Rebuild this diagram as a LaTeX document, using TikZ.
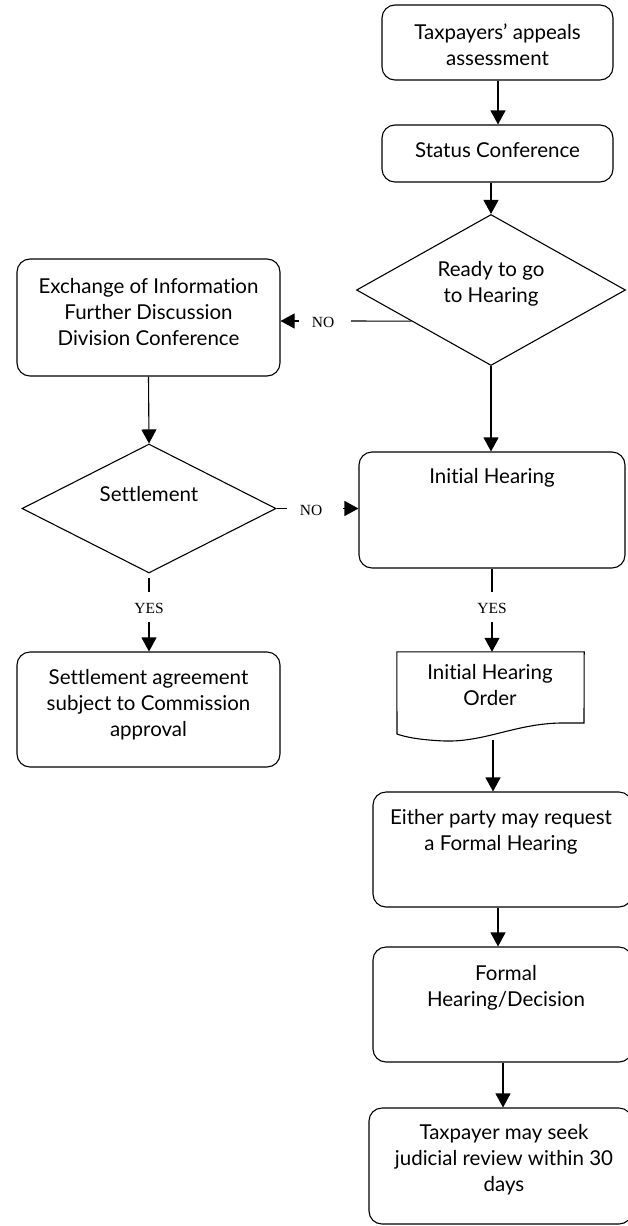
\documentclass[tikz,border=0pt]{standalone}
\usepackage{fontspec}
\setmainfont{Lato}[Ligatures=NoCommon]
\newfontfamily\lblfont{Liberation Serif}
\usetikzlibrary{shapes.geometric,arrows.meta,calc}
\begin{document}
\begin{tikzpicture}[x=1pt,y=-1pt,
  box/.style={draw, rounded corners=13pt, line width=1.1pt, inner sep=0pt},
  dia/.style={draw, diamond, line width=1.1pt, inner sep=0pt},
  txt/.style={align=center, font=\fontsize{20.5}{26}\selectfont, inner sep=0pt},
  lbl/.style={font=\lblfont\fontsize{15.5}{17}\selectfont, inner sep=0pt},
  arr/.style={line width=1.1pt, -{Triangle[length=14pt,width=15pt]}},
  ln/.style={line width=1.1pt}]
\useasboundingbox (0,0) rectangle (628,1226);

% shapes
\node[box, minimum width=231pt, minimum height=75pt] (b1) at (497.5,42.5) {};
\node[box, minimum width=231pt, minimum height=57pt] (b2) at (497.5,153.5) {};
\node[dia, minimum width=269pt, minimum height=151pt] (ready) at (491,290) {};
\node[box, minimum width=263pt, minimum height=117pt] (ex) at (148.5,317.5) {};
\node[dia, minimum width=254pt, minimum height=129pt] (settle) at (149,508.5) {};
\node[box, minimum width=266pt, minimum height=116pt] (ih) at (492,510) {};
\node[box, minimum width=263pt, minimum height=115pt] (sa) at (148.5,709.5) {};
\node[inner sep=0pt, minimum width=187pt, minimum height=88pt] (doc) at (490.5,696) {};
\draw[ln] (doc.north west) -- (doc.north east) -- (584,723) -- (560,723)
  .. controls (515,724) and (485,742) .. (445,741)
  .. controls (420,740) and (405,737) .. (397,734) -- cycle;
\node[box, minimum width=259pt, minimum height=115pt] (ep) at (502.5,849.5) {};
\node[box, minimum width=259pt, minimum height=115pt] (fh) at (502.5,1004.5) {};
\node[box, minimum width=263pt, minimum height=116pt] (tp) at (500.5,1166) {};

% texts
\node[txt] (t1) at (497.5,45) {Taxpayers’ appeals\\assessment};
\node[txt] (t2) at (497.5,150) {Status Conference};
\node[txt] (t3) at (491,283.5) {Ready to go\\to Hearing};
\node[txt] (t4) at (148.5,312) {Exchange of Information\\Further Discussion\\Division Conference};
\node[txt] (t5) at (149,494) {Settlement};
\node[txt] (t6) at (492,478) {Initial Hearing};
\node[txt] (t7) at (148.5,704.5) {Settlement agreement\\subject to Commission\\approval};
\node[txt] (t8) at (490,685.5) {Initial Hearing\\Order};
\node[txt] (t9) at (501,831.5) {Either party may request\\a Formal Hearing};
\node[txt] (t10) at (506,987.5) {Formal\\Hearing/Decision};
\node[txt] (t11) at (504,1160) {Taxpayer may seek\\judicial review within 30\\days};

% labels
\node[lbl] (no1) at (323,322) {NO};
\node[lbl] (no2) at (311,510) {NO};
\node[lbl] (yes1) at (149,608) {YES};
\node[lbl] (yes2) at (492,608) {YES};

% connectors
\draw[arr] (b1.south -| 498,0) -- (b2.north -| 498,0);
\draw[arr] (b2.south -| ready.north) -- (ready.north);
\draw[arr] (ready.south) -- (ready.south |- ih.north);

\coordinate (n1a) at ($(ready.west)!0.41!(ready.south)$);
\coordinate (n1b) at (351,321);
\coordinate (n1c) at (299,321);
\draw[ln] (n1a) -- (n1b);
\draw[arr] (n1c) -- (ex.east |- n1c);

\draw[arr] (ex.south) -- (settle.north);

\coordinate (n2b) at (287,508.5);
\coordinate (n2c) at (343,508.5);
\draw[ln] (settle.east) -- (n2b);
\draw[arr] (n2c) -- (ih.west |- n2c);

\coordinate (y1a) at (149,578);
\coordinate (y1b) at (149,592);
\coordinate (y1c) at (149,622);
\draw[ln] (y1a) -- (y1b);
\draw[arr] (y1c) -- (sa.north -| y1c);

\coordinate (y2b) at (492,592);
\coordinate (y2c) at (492,622);
\draw[ln] (ih.south) -- (y2b);
\draw[arr] (y2c) -- (doc.north -| y2c);

\draw[arr] (493,740) coordinate (docb) -- (ep.north -| docb);
\draw[arr] (ep.south -| 498,0) -- (fh.north -| 498,0);
\draw[arr] (fh.south -| 503,0) -- (tp.north -| 503,0);
\end{tikzpicture}
\end{document}
